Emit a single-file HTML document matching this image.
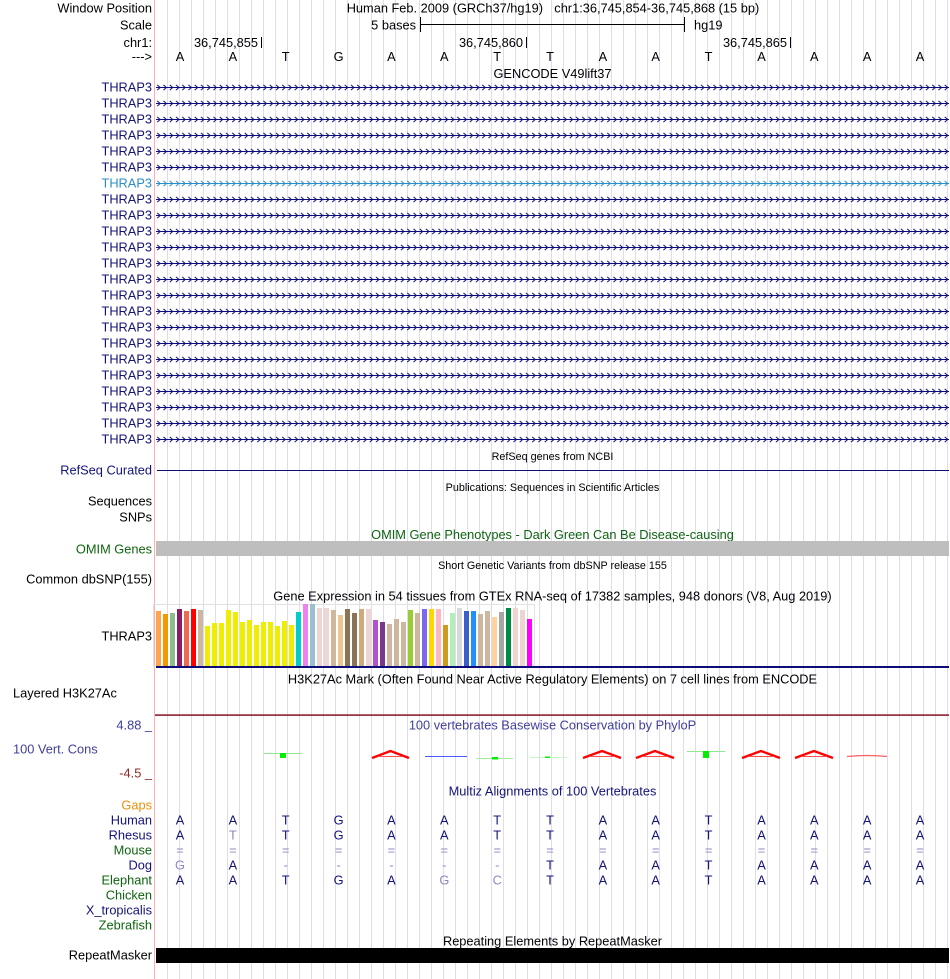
<!DOCTYPE html>
<html><head><meta charset="utf-8"><style>
html,body{margin:0;padding:0;background:#fff;width:950px;height:979px;overflow:hidden}
svg{display:block}
text{font-family:"Liberation Sans",Arial,sans-serif;font-size:12.8px}
.r{text-anchor:end}
.m{text-anchor:middle}
.s{font-size:10.8px}
.nv{fill:#141478}
.gr{fill:#0f640f}
.lt{fill:#8a8ac0}
</style></head><body>
<svg width="950" height="979" viewBox="0 0 950 979" xmlns="http://www.w3.org/2000/svg">
<defs>
<pattern id="grid" x="167" y="0" width="12" height="10" patternUnits="userSpaceOnUse"><rect x="0" y="0" width="1" height="10" fill="#dcdcf8"/></pattern>
<pattern id="chevN" x="156" y="79.5" width="6.25" height="16" patternUnits="userSpaceOnUse"><path d="M1.2 5.4 L4.2 8 L1.2 10.6" stroke="#0c0c78" stroke-width="1" fill="none"/></pattern>
<pattern id="chevB" x="156" y="79.5" width="6.25" height="16" patternUnits="userSpaceOnUse"><path d="M1.2 5.4 L4.2 8 L1.2 10.6" stroke="#2c8cc8" stroke-width="1" fill="none"/></pattern>
</defs>
<rect x="0" y="0" width="950" height="979" fill="#fff"/>
<rect x="167" y="0" width="781" height="979" fill="url(#grid)"/>
<rect x="154" y="0" width="1" height="979" fill="#ffb0b0"/>

<!-- header -->
<text x="152" y="12.5" class="r">Window Position</text>
<text x="346.7" y="12.5">Human Feb. 2009 (GRCh37/hg19)</text>
<text x="554.3" y="12.5">chr1:36,745,854-36,745,868 (15 bp)</text>
<text x="152" y="29.5" class="r">Scale</text>
<text x="416" y="29.5" class="r">5 bases</text>
<rect x="420" y="24" width="265" height="1" fill="#000"/>
<rect x="420" y="17" width="1" height="15" fill="#000"/>
<rect x="684" y="17" width="1" height="15" fill="#000"/>
<text x="694" y="29.5">hg19</text>
<text x="152" y="47" class="r">chr1:</text>
<text x="258" y="47" class="r">36,745,855</text>
<rect x="261" y="37" width="1" height="11" fill="#000"/>
<text x="523" y="47" class="r">36,745,860</text>
<rect x="526" y="37" width="1" height="11" fill="#000"/>
<text x="787" y="47" class="r">36,745,865</text>
<rect x="790" y="37" width="1" height="11" fill="#000"/>
<text x="152" y="61" class="r">---&gt;</text>
<g class="m">
<text x="180" y="61" class="m">A</text><text x="232.9" y="61" class="m">A</text><text x="285.7" y="61" class="m">T</text><text x="338.6" y="61" class="m">G</text><text x="391.4" y="61" class="m">A</text><text x="444.3" y="61" class="m">A</text><text x="497.2" y="61" class="m">T</text><text x="550" y="61" class="m">T</text><text x="602.9" y="61" class="m">A</text><text x="655.7" y="61" class="m">A</text><text x="708.6" y="61" class="m">T</text><text x="761.5" y="61" class="m">A</text><text x="814.3" y="61" class="m">A</text><text x="867.2" y="61" class="m">A</text><text x="920" y="61" class="m">A</text>
</g>
<text x="552.5" y="78" class="m">GENCODE V49lift37</text>

<!-- gene rows -->
<rect x="156" y="79.5" width="793" height="96" fill="url(#chevN)"/>
<rect x="156" y="175.5" width="793" height="16" fill="url(#chevB)"/>
<rect x="156" y="191.5" width="793" height="256" fill="url(#chevN)"/>
<g fill="#0c0c78">
<rect x="156" y="87" width="793" height="1"/><rect x="156" y="103" width="793" height="1"/><rect x="156" y="119" width="793" height="1"/><rect x="156" y="135" width="793" height="1"/><rect x="156" y="151" width="793" height="1"/><rect x="156" y="167" width="793" height="1"/>
<rect x="156" y="199" width="793" height="1"/><rect x="156" y="215" width="793" height="1"/><rect x="156" y="231" width="793" height="1"/><rect x="156" y="247" width="793" height="1"/><rect x="156" y="263" width="793" height="1"/><rect x="156" y="279" width="793" height="1"/><rect x="156" y="295" width="793" height="1"/><rect x="156" y="311" width="793" height="1"/><rect x="156" y="327" width="793" height="1"/><rect x="156" y="343" width="793" height="1"/><rect x="156" y="359" width="793" height="1"/><rect x="156" y="375" width="793" height="1"/><rect x="156" y="391" width="793" height="1"/><rect x="156" y="407" width="793" height="1"/><rect x="156" y="423" width="793" height="1"/><rect x="156" y="439" width="793" height="1"/>
</g>
<rect x="156" y="183" width="793" height="1" fill="#2c8cc8"/>
<g class="nv">
<text x="152" y="91.5" class="r">THRAP3</text><text x="152" y="107.5" class="r">THRAP3</text><text x="152" y="123.5" class="r">THRAP3</text><text x="152" y="139.5" class="r">THRAP3</text><text x="152" y="155.5" class="r">THRAP3</text><text x="152" y="171.5" class="r">THRAP3</text>
<text x="152" y="203.5" class="r">THRAP3</text><text x="152" y="219.5" class="r">THRAP3</text><text x="152" y="235.5" class="r">THRAP3</text><text x="152" y="251.5" class="r">THRAP3</text><text x="152" y="267.5" class="r">THRAP3</text><text x="152" y="283.5" class="r">THRAP3</text><text x="152" y="299.5" class="r">THRAP3</text><text x="152" y="315.5" class="r">THRAP3</text><text x="152" y="331.5" class="r">THRAP3</text><text x="152" y="347.5" class="r">THRAP3</text><text x="152" y="363.5" class="r">THRAP3</text><text x="152" y="379.5" class="r">THRAP3</text><text x="152" y="395.5" class="r">THRAP3</text><text x="152" y="411.5" class="r">THRAP3</text><text x="152" y="427.5" class="r">THRAP3</text><text x="152" y="443.5" class="r">THRAP3</text>
</g>
<text x="152" y="187.5" class="r" fill="#2c8cc8">THRAP3</text>

<!-- RefSeq -->
<text x="552.5" y="459.8" class="m s">RefSeq genes from NCBI</text>
<rect x="157" y="470" width="792" height="1" fill="#0c0c78"/>
<text x="152" y="474.5" class="r nv">RefSeq Curated</text>
<text x="552.5" y="490.8" class="m s">Publications: Sequences in Scientific Articles</text>
<text x="152" y="505.5" class="r">Sequences</text>
<text x="152" y="521.5" class="r">SNPs</text>
<text x="552.5" y="539" class="m gr">OMIM Gene Phenotypes - Dark Green Can Be Disease-causing</text>
<rect x="156" y="541" width="793" height="15" fill="#bebebe"/>
<text x="152" y="553.5" class="r gr">OMIM Genes</text>
<text x="552.5" y="568.8" class="m s">Short Genetic Variants from dbSNP release 155</text>
<text x="152" y="583.5" class="r">Common dbSNP(155)</text>

<!-- GTEx -->
<text x="552.5" y="600.5" class="m">Gene Expression in 54 tissues from GTEx RNA-seq of 17382 samples, 948 donors (V8, Aug 2019)</text>
<rect x="153.5" y="604.5" width="381" height="62" fill="none" stroke="#e2e2e2" stroke-width="1"/>
<g>
<rect x="156" y="611" width="5" height="55" fill="#FFA54F"/>
<rect x="163" y="614" width="5" height="52" fill="#EE9A00"/>
<rect x="170" y="613" width="5" height="53" fill="#8FBC8F"/>
<rect x="177" y="609" width="5" height="57" fill="#8B1C62"/>
<rect x="184" y="611" width="5" height="55" fill="#EE6A50"/>
<rect x="191" y="609" width="5" height="57" fill="#FF0000"/>
<rect x="198" y="610" width="5" height="56" fill="#CDB79E"/>
<rect x="205" y="626" width="5" height="40" fill="#EEEE00"/>
<rect x="212" y="623" width="5" height="43" fill="#EEEE00"/>
<rect x="219" y="623" width="5" height="43" fill="#EEEE00"/>
<rect x="226" y="610" width="5" height="56" fill="#EEEE00"/>
<rect x="233" y="612" width="5" height="54" fill="#EEEE00"/>
<rect x="240" y="622" width="5" height="44" fill="#EEEE00"/>
<rect x="247" y="620" width="5" height="46" fill="#EEEE00"/>
<rect x="254" y="625" width="5" height="41" fill="#EEEE00"/>
<rect x="261" y="622" width="5" height="44" fill="#EEEE00"/>
<rect x="268" y="622" width="5" height="44" fill="#EEEE00"/>
<rect x="275" y="626" width="5" height="40" fill="#EEEE00"/>
<rect x="282" y="621" width="5" height="45" fill="#EEEE00"/>
<rect x="289" y="625" width="5" height="41" fill="#EEEE00"/>
<rect x="296" y="612" width="5" height="54" fill="#00CDCD"/>
<rect x="303" y="604" width="5" height="62" fill="#EE82EE"/>
<rect x="310" y="604" width="5" height="62" fill="#9AC0CD"/>
<rect x="317" y="608" width="5" height="58" fill="#EED5D2"/>
<rect x="324" y="608" width="5" height="58" fill="#EED5D2"/>
<rect x="331" y="610" width="5" height="56" fill="#CDB79E"/>
<rect x="338" y="615" width="5" height="51" fill="#EEC591"/>
<rect x="345" y="609" width="5" height="57" fill="#8B7355"/>
<rect x="352" y="613" width="5" height="53" fill="#8B7355"/>
<rect x="359" y="609" width="5" height="57" fill="#CDAA7D"/>
<rect x="366" y="609" width="5" height="57" fill="#EED5D2"/>
<rect x="373" y="620" width="5" height="46" fill="#B452CD"/>
<rect x="380" y="622" width="5" height="44" fill="#7A378B"/>
<rect x="387" y="624" width="5" height="42" fill="#CDB79E"/>
<rect x="394" y="619" width="5" height="47" fill="#CDB79E"/>
<rect x="401" y="622" width="5" height="44" fill="#CDB79E"/>
<rect x="408" y="610" width="5" height="56" fill="#9ACD32"/>
<rect x="415" y="613" width="5" height="53" fill="#CDB79E"/>
<rect x="422" y="609" width="5" height="57" fill="#7B68EE"/>
<rect x="429" y="609" width="5" height="57" fill="#FFD700"/>
<rect x="436" y="609" width="5" height="57" fill="#FFB6C1"/>
<rect x="443" y="625" width="5" height="41" fill="#CD9B1D"/>
<rect x="450" y="613" width="5" height="53" fill="#B4EEB4"/>
<rect x="457" y="608" width="5" height="58" fill="#D9D9D9"/>
<rect x="464" y="611" width="5" height="55" fill="#3A5FCD"/>
<rect x="471" y="611" width="5" height="55" fill="#1E90FF"/>
<rect x="478" y="614" width="5" height="52" fill="#CDB79E"/>
<rect x="485" y="611" width="5" height="55" fill="#CDB79E"/>
<rect x="492" y="617" width="5" height="49" fill="#FFD39B"/>
<rect x="499" y="612" width="5" height="54" fill="#A6A6A6"/>
<rect x="506" y="608" width="5" height="58" fill="#008B45"/>
<rect x="513" y="608" width="5" height="58" fill="#EED5D2"/>
<rect x="520" y="610" width="5" height="56" fill="#EED5D2"/>
<rect x="527" y="619" width="5" height="47" fill="#FF00FF"/>
</g>
<rect x="156" y="666" width="793" height="2" fill="#0c0c78"/>
<text x="152" y="640.5" class="r">THRAP3</text>

<!-- H3K27Ac -->
<text x="552.5" y="683.5" class="m">H3K27Ac Mark (Often Found Near Active Regulatory Elements) on 7 cell lines from ENCODE</text>
<text x="13" y="697.5">Layered H3K27Ac</text>
<rect x="155" y="714.3" width="794" height="1.6" fill="#8c2030"/>

<!-- PhyloP -->
<text x="552.5" y="729.5" class="m" fill="#40409a">100 vertebrates Basewise Conservation by PhyloP</text>
<text x="152" y="729.5" class="r" fill="#40409a">4.88 _</text>
<text x="13" y="753.5" fill="#40409a">100 Vert. Cons</text>
<text x="152" y="777.5" class="r" fill="#8b2a2a">-4.5 _</text>
<g>
<rect x="264" y="753" width="38" height="1" fill="#90e890"/>
<rect x="280" y="753" width="6" height="5" fill="#00ee00"/>
<rect x="425" y="756" width="42" height="1" fill="#4a5aff"/>
<rect x="476" y="758" width="37" height="1" fill="#a0eea0"/>
<rect x="492" y="757" width="6" height="2.5" fill="#00ee00"/>
<rect x="530" y="757" width="37" height="1" fill="#c8f4c8"/>
<rect x="545" y="756.5" width="5" height="1.5" fill="#00ee00"/>
<rect x="687" y="751" width="38" height="1" fill="#90e890"/>
<rect x="703" y="751" width="6" height="7" fill="#00ee00"/>
<g stroke="#ff0000" stroke-width="2.3" fill="none" stroke-linejoin="miter">
<path d="M372 758 L390.5 751 L409 758"/>
<path d="M583 758 L602 751 L621 758"/>
<path d="M636 758 L655 751 L674 758"/>
<path d="M742 758 L761 751 L780 758"/>
<path d="M795 758 L814 751 L833 758"/>
</g>
<g fill="#ff5050">
<rect x="378" y="756" width="25" height="1"/><rect x="589" y="756" width="26" height="1"/><rect x="642" y="756" width="26" height="1"/><rect x="748" y="756" width="26" height="1"/><rect x="801" y="756" width="26" height="1"/>
</g>
<path d="M847 756.5 Q867 754.5 887 756.5" stroke="#ff6060" stroke-width="1.2" fill="none"/>
</g>

<!-- Multiz -->
<text x="552.5" y="795.5" class="m nv">Multiz Alignments of 100 Vertebrates</text>
<text x="152" y="809.5" class="r" fill="#e8900c">Gaps</text>
<text x="152" y="824.5" class="r nv">Human</text>
<text x="152" y="839.5" class="r nv">Rhesus</text>
<text x="152" y="854.5" class="r gr">Mouse</text>
<text x="152" y="869.5" class="r nv">Dog</text>
<text x="152" y="884.5" class="r gr">Elephant</text>
<text x="152" y="899.5" class="r gr">Chicken</text>
<text x="152" y="914.5" class="r nv">X_tropicalis</text>
<text x="152" y="929.5" class="r gr">Zebrafish</text>
<g class="nv">
<!-- Human -->
<text x="180" y="824.5" class="m">A</text><text x="232.9" y="824.5" class="m">A</text><text x="285.7" y="824.5" class="m">T</text><text x="338.6" y="824.5" class="m">G</text><text x="391.4" y="824.5" class="m">A</text><text x="444.3" y="824.5" class="m">A</text><text x="497.2" y="824.5" class="m">T</text><text x="550" y="824.5" class="m">T</text><text x="602.9" y="824.5" class="m">A</text><text x="655.7" y="824.5" class="m">A</text><text x="708.6" y="824.5" class="m">T</text><text x="761.5" y="824.5" class="m">A</text><text x="814.3" y="824.5" class="m">A</text><text x="867.2" y="824.5" class="m">A</text><text x="920" y="824.5" class="m">A</text>
<!-- Rhesus -->
<text x="180" y="839.5" class="m">A</text><text x="232.9" y="839.5" class="m lt">T</text><text x="285.7" y="839.5" class="m">T</text><text x="338.6" y="839.5" class="m">G</text><text x="391.4" y="839.5" class="m">A</text><text x="444.3" y="839.5" class="m">A</text><text x="497.2" y="839.5" class="m">T</text><text x="550" y="839.5" class="m">T</text><text x="602.9" y="839.5" class="m">A</text><text x="655.7" y="839.5" class="m">A</text><text x="708.6" y="839.5" class="m">T</text><text x="761.5" y="839.5" class="m">A</text><text x="814.3" y="839.5" class="m">A</text><text x="867.2" y="839.5" class="m">A</text><text x="920" y="839.5" class="m">A</text>
<!-- Mouse -->
<text x="180" y="854.5" class="m lt">=</text><text x="232.9" y="854.5" class="m lt">=</text><text x="285.7" y="854.5" class="m lt">=</text><text x="338.6" y="854.5" class="m lt">=</text><text x="391.4" y="854.5" class="m lt">=</text><text x="444.3" y="854.5" class="m lt">=</text><text x="497.2" y="854.5" class="m lt">=</text><text x="550" y="854.5" class="m lt">=</text><text x="602.9" y="854.5" class="m lt">=</text><text x="655.7" y="854.5" class="m lt">=</text><text x="708.6" y="854.5" class="m lt">=</text><text x="761.5" y="854.5" class="m lt">=</text><text x="814.3" y="854.5" class="m lt">=</text><text x="867.2" y="854.5" class="m lt">=</text><text x="920" y="854.5" class="m lt">=</text>
<!-- Dog -->
<text x="180" y="869.5" class="m lt">G</text><text x="232.9" y="869.5" class="m">A</text><text x="285.7" y="869.5" class="m lt">-</text><text x="338.6" y="869.5" class="m lt">-</text><text x="391.4" y="869.5" class="m lt">-</text><text x="444.3" y="869.5" class="m lt">-</text><text x="497.2" y="869.5" class="m lt">-</text><text x="550" y="869.5" class="m">T</text><text x="602.9" y="869.5" class="m">A</text><text x="655.7" y="869.5" class="m">A</text><text x="708.6" y="869.5" class="m">T</text><text x="761.5" y="869.5" class="m">A</text><text x="814.3" y="869.5" class="m">A</text><text x="867.2" y="869.5" class="m">A</text><text x="920" y="869.5" class="m">A</text>
<!-- Elephant -->
<text x="180" y="884.5" class="m">A</text><text x="232.9" y="884.5" class="m">A</text><text x="285.7" y="884.5" class="m">T</text><text x="338.6" y="884.5" class="m">G</text><text x="391.4" y="884.5" class="m">A</text><text x="444.3" y="884.5" class="m lt">G</text><text x="497.2" y="884.5" class="m lt">C</text><text x="550" y="884.5" class="m">T</text><text x="602.9" y="884.5" class="m">A</text><text x="655.7" y="884.5" class="m">A</text><text x="708.6" y="884.5" class="m">T</text><text x="761.5" y="884.5" class="m">A</text><text x="814.3" y="884.5" class="m">A</text><text x="867.2" y="884.5" class="m">A</text><text x="920" y="884.5" class="m">A</text>
</g>

<!-- RepeatMasker -->
<text x="552.5" y="945.5" class="m">Repeating Elements by RepeatMasker</text>
<rect x="156" y="948" width="793" height="15" fill="#000"/>
<text x="152" y="959.5" class="r">RepeatMasker</text>
</svg>
</body></html>
